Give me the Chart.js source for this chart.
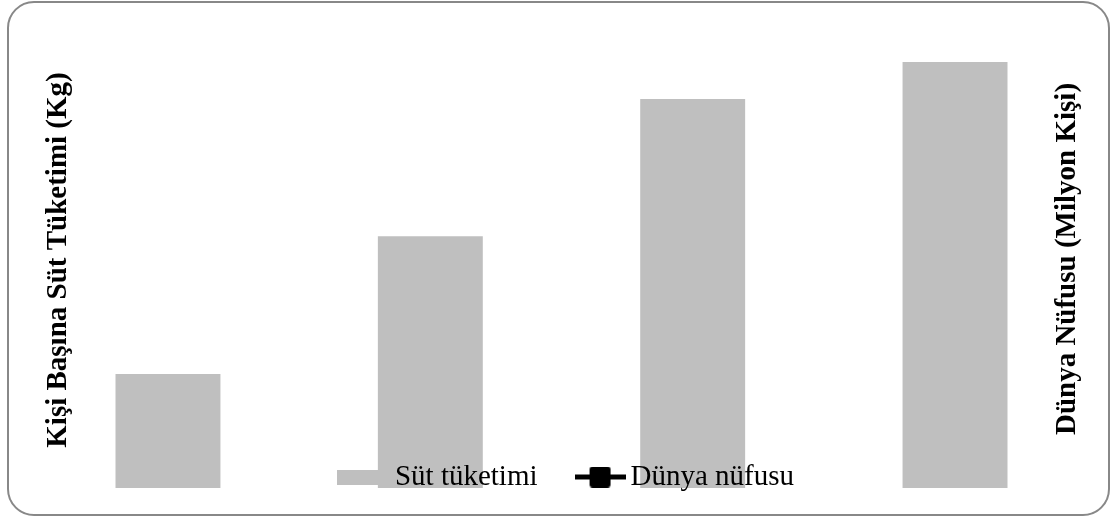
<!DOCTYPE html>
<html lang="tr">
<head>
  <meta charset="UTF-8">
  <title>Süt tüketimi ve Dünya nüfusu</title>
  <script src="https://cdn.jsdelivr.net/npm/chart.js"></script>
  <style>
    body { margin: 0; background: #fff; }
    .wrap { position: relative; width: 1110px; height: 517px; }
    .frame {
      position: absolute; left: 7px; top: 1px; width: 1103px; height: 515px;
      box-sizing: border-box; border: 2px solid #888; border-radius: 27px;
      pointer-events: none;
    }
  </style>
</head>
<body>
  <div class="wrap">
    <canvas id="chart" width="1110" height="517"></canvas>
    <div class="frame"></div>
  </div>

  <script>
    // veriler (eksen etiketleri grafikte görünmüyor)
    const categories = ['1', '2', '3', '4'];
    const sutTuketimi = [25.0, 55.2, 85.3, 93.4];
    const dunyaNufusu = [null, null, null, null];

    const leftTitle = 'Kişi Başına Süt Tüketimi (Kg)';
    const rightTitle = 'Dünya Nüfusu (Milyon Kişi)';
    const serif = "'Liberation Serif', 'Times New Roman', serif";

    // lejant simgeleri
    function boxIcon() {
      const c = document.createElement('canvas');
      c.width = 54; c.height = 15;
      const g = c.getContext('2d');
      g.fillStyle = '#bfbfbf';
      g.fillRect(0, 0, 44, 15);
      return c;
    }
    function lineIcon() {
      const c = document.createElement('canvas');
      c.width = 51; c.height = 21;
      const g = c.getContext('2d');
      g.fillStyle = '#000';
      g.fillRect(0, 8, 51, 5);
      g.beginPath();
      g.roundRect(15, 0, 21, 21, 3);
      g.fill();
      return c;
    }

    // lejanti grafik alanının içine, çubukların üstüne çiz
    const legendInside = {
      id: 'legendInside',
      beforeInit(chart) {
        const lg = chart.legend;
        const fit = lg.fit;
        lg.fit = function () { fit.call(this); this.height = 0; };
        lg._layers = () => [{ z: 1, draw: (area) => lg.draw(area) }];
      },
      afterLayout(chart) {
        const lg = chart.legend;
        lg.left = 32; lg.right = 1110.5;
        lg.top = 416; lg.bottom = 517;
      }
    };

    // sağ eksen başlığı (aşağıdan yukarı okunur)
    const rightAxisTitle = {
      id: 'rightAxisTitle',
      afterDraw(chart) {
        const ctx = chart.ctx;
        ctx.save();
        ctx.translate(1068, 259);
        ctx.rotate(-Math.PI / 2);
        ctx.font = 'bold 29px ' + serif;
        ctx.fillStyle = '#000';
        ctx.textAlign = 'center';
        ctx.textBaseline = 'middle';
        ctx.fillText(rightTitle, 0, 0);
        ctx.restore();
      }
    };

    const ctx = document.getElementById('chart').getContext('2d');
    new Chart(ctx, {
      data: {
        labels: categories,
        datasets: [{
          type: 'bar',
          label: 'Süt tüketimi',
          data: sutTuketimi,
          backgroundColor: '#bfbfbf',
          barPercentage: 0.4,
          categoryPercentage: 1,
          yAxisID: 'y',
          order: 2
        }, {
          type: 'line',
          label: 'Dünya nüfusu',
          data: dunyaNufusu,
          borderColor: '#000',
          backgroundColor: '#000',
          pointStyle: 'rect',
          yAxisID: 'y1',
          order: 1
        }]
      },
      options: {
        responsive: false,
        animation: false,
        layout: { padding: { left: 36.8, right: 23.8, top: 32, bottom: 29 } },
        scales: {
          x: { display: false },
          y: {
            min: 0, max: 100,
            grid: { display: false },
            border: { display: false },
            ticks: { display: false },
            title: {
              display: true, text: leftTitle, color: '#000',
              font: { family: serif, size: 29, weight: 'bold' }
            },
            afterFit: (s) => { s.width = 0; }
          },
          y1: { display: false, position: 'right', min: 0, max: 100 }
        },
        plugins: {
          tooltip: { enabled: false },
          legend: {
            position: 'bottom',
            labels: {
              color: '#000',
              font: { family: serif, size: 29 },
              usePointStyle: true,
              pointStyleWidth: 32,
              padding: 46.5,
              generateLabels: (chart) => chart.data.datasets.map((ds, i) => ({
                text: ds.label,
                datasetIndex: i,
                hidden: false,
                fontColor: '#000',
                lineWidth: 0,
                pointStyle: i === 0 ? boxIcon() : lineIcon()
              }))
            }
          }
        }
      },
      plugins: [legendInside, rightAxisTitle]
    });
  </script>
</body>
</html>
